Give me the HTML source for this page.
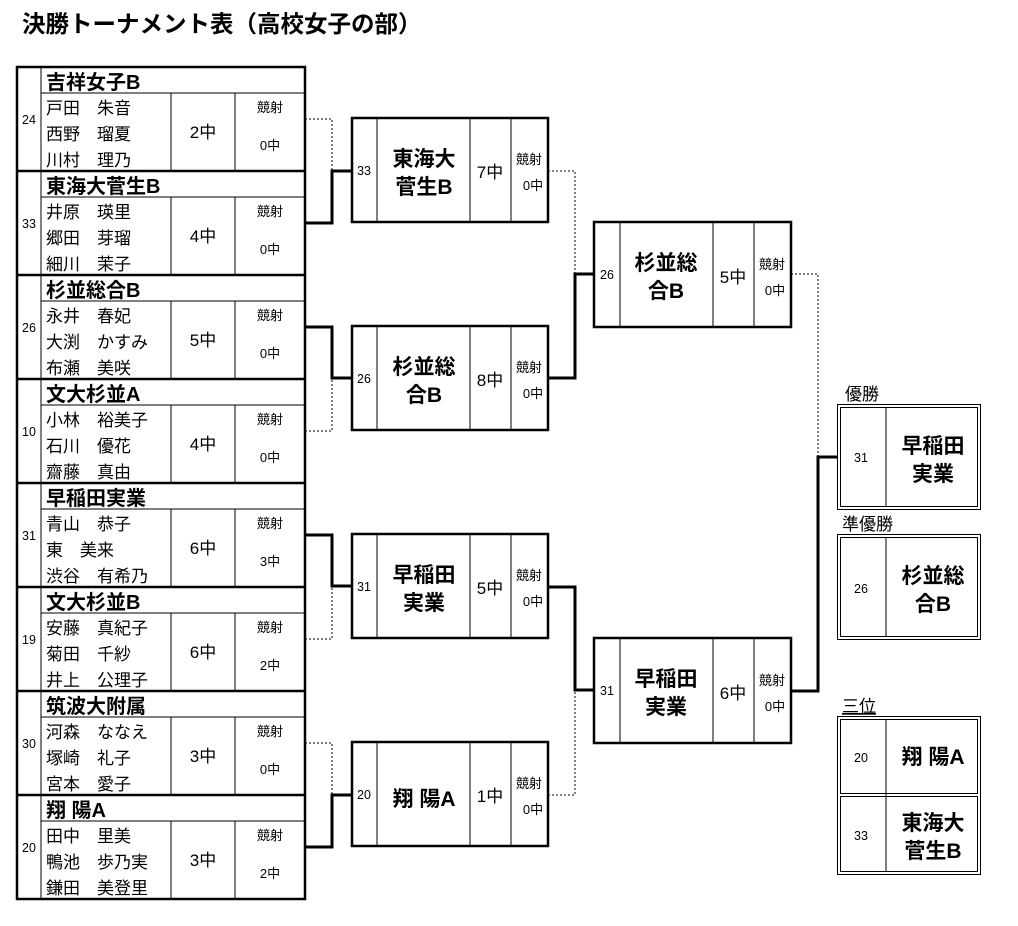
<!DOCTYPE html>
<html><head><meta charset="utf-8"><style>
html,body{margin:0;padding:0;background:#fff;}
svg{display:block;font-family:"Liberation Sans","Noto Sans CJK JP",sans-serif;}
.h{font-size:20px;font-weight:bold;}
.n{font-size:17px;}
.s{font-size:17px;text-anchor:middle;}
.k{font-size:13px;text-anchor:middle;}
.num{font-size:12.5px;text-anchor:middle;}
.t{font-size:21px;font-weight:bold;text-anchor:middle;}
.l{stroke:#000;stroke-width:1;fill:none;}
.b{stroke:#000;stroke-width:2.5;fill:none;}
.c{stroke:#000;stroke-width:3;fill:none;}
.d{stroke:#000;stroke-width:1;fill:none;stroke-dasharray:2,2;}
</style></head><body>
<svg width="1018" height="926" viewBox="0 0 1018 926">
<text x="22" y="32" style="font-size:23.5px;font-weight:bold">決勝トーナメント表（高校女子の部）</text>

<rect x="17" y="67" width="288" height="832" class="b"/>
<line x1="41" y1="67" x2="41" y2="899" class="l"/>
<line x1="17" y1="171" x2="305" y2="171" class="b"/>
<line x1="17" y1="275" x2="305" y2="275" class="b"/>
<line x1="17" y1="379" x2="305" y2="379" class="b"/>
<line x1="17" y1="483" x2="305" y2="483" class="b"/>
<line x1="17" y1="587" x2="305" y2="587" class="b"/>
<line x1="17" y1="691" x2="305" y2="691" class="b"/>
<line x1="17" y1="795" x2="305" y2="795" class="b"/>
<path class="l" d="M41 93H305M41 197H305M41 301H305M41 405H305M41 509H305M41 613H305M41 717H305M41 821H305
M171 93V171M235 93V171M171 197V275M235 197V275M171 301V379M235 301V379M171 405V483M235 405V483
M171 509V587M235 509V587M171 613V691M235 613V691M171 717V795M235 717V795M171 821V899M235 821V899"/>

<text x="29" y="124" class="num">24</text>
<text x="46" y="89" class="h">吉祥女子B</text>
<text x="46" y="114" class="n">戸田　朱音</text><text x="46" y="140" class="n">西野　瑠夏</text><text x="46" y="166" class="n">川村　理乃</text>
<text x="203" y="138" class="s">2中</text><text x="270" y="112" class="k">競射</text><text x="270" y="150" class="k">0中</text>

<text x="29" y="228" class="num">33</text>
<text x="46" y="193" class="h">東海大菅生B</text>
<text x="46" y="218" class="n">井原　瑛里</text><text x="46" y="244" class="n">郷田　芽瑠</text><text x="46" y="270" class="n">細川　茉子</text>
<text x="203" y="242" class="s">4中</text><text x="270" y="216" class="k">競射</text><text x="270" y="254" class="k">0中</text>

<text x="29" y="332" class="num">26</text>
<text x="46" y="297" class="h">杉並総合B</text>
<text x="46" y="322" class="n">永井　春妃</text><text x="46" y="348" class="n">大渕　かすみ</text><text x="46" y="374" class="n">布瀬　美咲</text>
<text x="203" y="346" class="s">5中</text><text x="270" y="320" class="k">競射</text><text x="270" y="358" class="k">0中</text>

<text x="29" y="436" class="num">10</text>
<text x="46" y="401" class="h">文大杉並A</text>
<text x="46" y="426" class="n">小林　裕美子</text><text x="46" y="452" class="n">石川　優花</text><text x="46" y="478" class="n">齋藤　真由</text>
<text x="203" y="450" class="s">4中</text><text x="270" y="424" class="k">競射</text><text x="270" y="462" class="k">0中</text>

<text x="29" y="540" class="num">31</text>
<text x="46" y="505" class="h">早稲田実業</text>
<text x="46" y="530" class="n">青山　恭子</text><text x="46" y="556" class="n">東　美来</text><text x="46" y="582" class="n">渋谷　有希乃</text>
<text x="203" y="554" class="s">6中</text><text x="270" y="528" class="k">競射</text><text x="270" y="566" class="k">3中</text>

<text x="29" y="644" class="num">19</text>
<text x="46" y="609" class="h">文大杉並B</text>
<text x="46" y="634" class="n">安藤　真紀子</text><text x="46" y="660" class="n">菊田　千紗</text><text x="46" y="686" class="n">井上　公理子</text>
<text x="203" y="658" class="s">6中</text><text x="270" y="632" class="k">競射</text><text x="270" y="670" class="k">2中</text>

<text x="29" y="748" class="num">30</text>
<text x="46" y="713" class="h">筑波大附属</text>
<text x="46" y="738" class="n">河森　ななえ</text><text x="46" y="764" class="n">塚崎　礼子</text><text x="46" y="790" class="n">宮本　愛子</text>
<text x="203" y="762" class="s">3中</text><text x="270" y="736" class="k">競射</text><text x="270" y="774" class="k">0中</text>

<text x="29" y="852" class="num">20</text>
<text x="46" y="817" class="h">翔 陽A</text>
<text x="46" y="842" class="n">田中　里美</text><text x="46" y="868" class="n">鴨池　歩乃実</text><text x="46" y="894" class="n">鎌田　美登里</text>
<text x="203" y="866" class="s">3中</text><text x="270" y="840" class="k">競射</text><text x="270" y="878" class="k">2中</text>

<path class="d" d="M305 119H332V171"/>
<path class="c" d="M305 223H332V171H352"/>
<path class="c" d="M305 327H332V378H352"/>
<path class="d" d="M305 431H332V378"/>
<path class="c" d="M305 535H332V586H352"/>
<path class="d" d="M305 639H332V586"/>
<path class="d" d="M305 743H332V795"/>
<path class="c" d="M305 847H332V795H352"/>

<rect x="352" y="118" width="196" height="104" class="b"/>
<path class="l" d="M377 118V222M470 118V222M511 118V222"/>
<text x="364" y="175" class="num">33</text>
<text x="424" y="166" class="t">東海大</text><text x="424" y="194" class="t">菅生B</text>
<text x="490" y="178" class="s">7中</text><text x="529" y="164" class="k">競射</text><text x="533" y="190" class="k">0中</text>

<rect x="352" y="326" width="196" height="104" class="b"/>
<path class="l" d="M377 326V430M470 326V430M511 326V430"/>
<text x="364" y="383" class="num">26</text>
<text x="424" y="374" class="t">杉並総</text><text x="424" y="402" class="t">合B</text>
<text x="490" y="386" class="s">8中</text><text x="529" y="372" class="k">競射</text><text x="533" y="398" class="k">0中</text>

<rect x="352" y="534" width="196" height="104" class="b"/>
<path class="l" d="M377 534V638M470 534V638M511 534V638"/>
<text x="364" y="591" class="num">31</text>
<text x="424" y="582" class="t">早稲田</text><text x="424" y="610" class="t">実業</text>
<text x="490" y="594" class="s">5中</text><text x="529" y="580" class="k">競射</text><text x="533" y="606" class="k">0中</text>

<rect x="352" y="742" width="196" height="104" class="b"/>
<path class="l" d="M377 742V846M470 742V846M511 742V846"/>
<text x="364" y="799" class="num">20</text>
<text x="424" y="806" class="t">翔 陽A</text>
<text x="490" y="802" class="s">1中</text><text x="529" y="788" class="k">競射</text><text x="533" y="814" class="k">0中</text>

<path class="d" d="M548 171H575V274"/>
<path class="c" d="M548 378H575V274H594"/>
<path class="c" d="M548 587H575V690H594"/>
<path class="d" d="M548 795H575V690"/>

<rect x="594" y="222" width="197" height="105" class="b"/>
<path class="l" d="M620 222V327M713 222V327M754 222V327"/>
<text x="607" y="279" class="num">26</text>
<text x="666" y="270" class="t">杉並総</text><text x="666" y="298" class="t">合B</text>
<text x="733" y="283" class="s">5中</text><text x="772" y="269" class="k">競射</text><text x="775" y="295" class="k">0中</text>

<rect x="594" y="638" width="197" height="105" class="b"/>
<path class="l" d="M620 638V743M713 638V743M754 638V743"/>
<text x="607" y="695" class="num">31</text>
<text x="666" y="686" class="t">早稲田</text><text x="666" y="714" class="t">実業</text>
<text x="733" y="699" class="s">6中</text><text x="772" y="685" class="k">競射</text><text x="775" y="711" class="k">0中</text>

<path class="d" d="M791 274H818V457"/>
<path class="c" d="M791 691H818V457H838"/>

<text x="845" y="400" style="font-size:17px">優勝</text>
<rect x="837.5" y="404.5" width="143" height="105" class="l"/>
<rect x="840.5" y="407.5" width="137" height="99" class="l"/>
<line x1="886" y1="407" x2="886" y2="507" class="l"/>
<text x="861" y="462" class="num">31</text>
<text x="933" y="453" class="t">早稲田</text><text x="933" y="481" class="t">実業</text>

<text x="842" y="530" style="font-size:17px">準優勝</text>
<rect x="837.5" y="534.5" width="143" height="105" class="l"/>
<rect x="840.5" y="537.5" width="137" height="99" class="l"/>
<line x1="886" y1="537" x2="886" y2="637" class="l"/>
<text x="861" y="593" class="num">26</text>
<text x="933" y="583" class="t">杉並総</text><text x="933" y="611" class="t">合B</text>

<text x="842" y="712" style="font-size:17px;text-decoration:underline">三位</text>
<rect x="837.5" y="716.5" width="143" height="158" class="l"/>
<rect x="840.5" y="719.5" width="137" height="74" class="l"/>
<rect x="840.5" y="796.5" width="137" height="75" class="l"/>
<line x1="886" y1="719" x2="886" y2="872" class="l"/>
<text x="861" y="762" class="num">20</text>
<text x="933" y="764" class="t">翔 陽A</text>
<text x="861" y="840" class="num">33</text>
<text x="933" y="830" class="t">東海大</text><text x="933" y="858" class="t">菅生B</text>
</svg>
</body></html>
